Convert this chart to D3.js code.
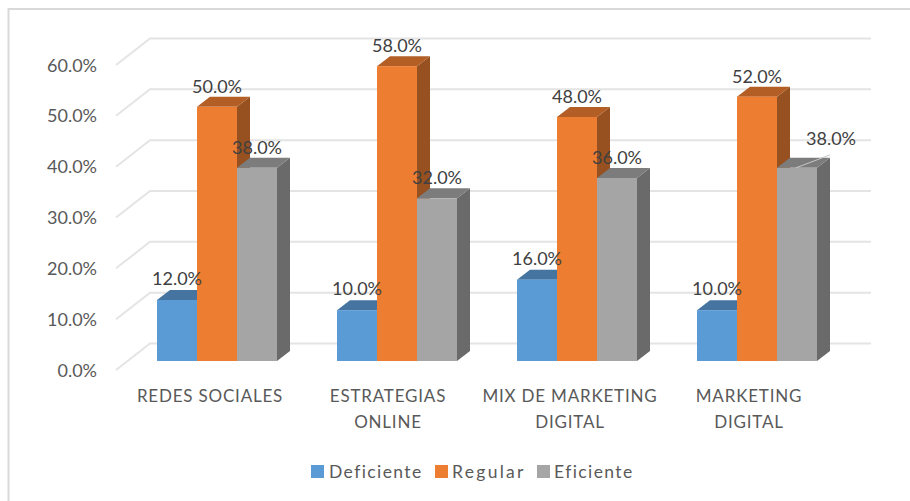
<!DOCTYPE html>
<html>
<head>
<meta charset="utf-8">
<script src="https://cdn.jsdelivr.net/npm/d3@7/dist/d3.min.js"></script>
<style>
html,body{margin:0;padding:0;background:#fff}
svg{display:block}
text{font-family:"Lato","Open Sans",sans-serif}
</style>
</head>
<body>
<div id="chart"></div>
<script>
const categories = [["REDES SOCIALES"],["ESTRATEGIAS","ONLINE"],["MIX DE MARKETING","DIGITAL"],["MARKETING","DIGITAL"]];
const seriesNames = ["Deficiente","Regular","Eficiente"];
const deficiente = [12,10,16,10];
const regular = [50,58,48,52];
const eficiente = [38,32,36,38];
const yTicks = [0,10,20,30,40,50,60];
const faces = [
  {front:"#5b9bd5",top:"#44749f",side:"#355d80"},
  {front:"#ed7d31",top:"#b25e25",side:"#97501f"},
  {front:"#a5a5a5",top:"#7c7c7c",side:"#6a6a6a"}
];
const seriesValues = [deficiente,regular,eficiente];

const width = 910, height = 501;
const svg = d3.select("#chart").append("svg").attr("width",width).attr("height",height);

// Chart frame: only the top and left edges fall inside the canvas
svg.append("path").attr("d","M8.5,501V9H910").attr("fill","none").attr("stroke","#d9d9d9").attr("stroke-width",2);

// Oblique projection: bars sit part way into the floor, walls at the full depth
const y = d3.scaleLinear().domain([0,60]).range([370,65]);
const wallDx = 34, wallDy = 26.5, barDx = 13, barDy = 10, barLift = 9;
const wallRight = 871;

const x = d3.scaleBand().domain(d3.range(categories.length)).range([127,847]).paddingInner(0).paddingOuter(0);
const barW = 40;
const barX = (c,s) => x(c) + x.bandwidth()/2 + (s-1.5)*barW;

// Walls and gridlines
const gridG = svg.append("g").attr("fill","none").attr("stroke","#e4e4e4").attr("stroke-width",2);
yTicks.forEach(t => {
  gridG.append("path").attr("d",`M${116},${y(t)}L${116+wallDx},${y(t)-wallDy}H${wallRight}`);
});

// Value axis labels
svg.append("g").selectAll("text").data(yTicks).join("text")
  .attr("x",97).attr("y",d=>y(d)+6.5)
  .attr("text-anchor","end").attr("font-size",18).attr("fill","#595959")
  .text(d=>d.toFixed(1)+"%");

// Bars, each with front, top and side faces, painted left to right
const barY = v => y(v) - barLift;
categories.forEach((_,c) => {
  seriesValues.forEach((vals,s) => {
    const v = vals[c], x0 = barX(c,s), x1 = x0+barW, t = barY(v), b = barY(0);
    const g = svg.append("g");
    g.append("path").attr("fill",faces[s].side)
      .attr("d",`M${x1},${t}L${x1+barDx},${t-barDy}V${b-barDy}L${x1},${b}Z`);
    g.append("path").attr("fill",faces[s].top)
      .attr("d",`M${x0},${t}L${x0+barDx},${t-barDy}H${x1+barDx}L${x1},${t}Z`);
    g.append("rect").attr("x",x0).attr("y",t).attr("width",barW).attr("height",b-t).attr("fill",faces[s].front);
  });
});

// Leader line on the last grey bar, whose label is pulled away from it
const lastX = barX(3,2);
svg.append("path").attr("fill","none").attr("stroke","#c8c8c8").attr("stroke-width",1)
  .attr("d",`M${lastX+19},${barY(38)}L${lastX+barW+13},${barY(38)-barDy-3}`);

// Data labels
const labelDx = [[0,0,0],[0,0,0],[0,0,0],[0,0,34]];
const labelDy = [[-1,0,0],[-1,0,0],[-1,0,0],[-1,0,-9]];
categories.forEach((_,c) => {
  seriesValues.forEach((vals,s) => {
    svg.append("text")
      .attr("x",barX(c,s)+barW/2+labelDx[c][s])
      .attr("y",barY(vals[c])-14+labelDy[c][s])
      .attr("text-anchor","middle").attr("font-size",18).attr("fill","#404040")
      .text(vals[c].toFixed(1)+"%");
  });
});

// Category labels
const categoryShift = [-7,-9,-7,-8];
categories.forEach((lines,c) => {
  const cx = x(c)+x.bandwidth()/2 + categoryShift[c];
  lines.forEach((ln,i) => {
    svg.append("text").attr("x",cx).attr("y",402+i*26)
      .attr("text-anchor","middle").attr("font-size",17).attr("letter-spacing",0.8).attr("fill","#595959").text(ln);
  });
});

// Legend
const legendX = [311,435,537];
const legendText = [329,452,554];
const legendSpacing = [1.4,2.3,1.4];
seriesNames.forEach((n,i) => {
  svg.append("rect").attr("x",legendX[i]).attr("y",465).attr("width",13).attr("height",13).attr("fill",faces[i].front);
  svg.append("text").attr("x",legendText[i]).attr("y",477.5).attr("font-size",17.5)
    .attr("letter-spacing",legendSpacing[i]).attr("fill","#595959").text(n);
});
</script>
</body>
</html>
